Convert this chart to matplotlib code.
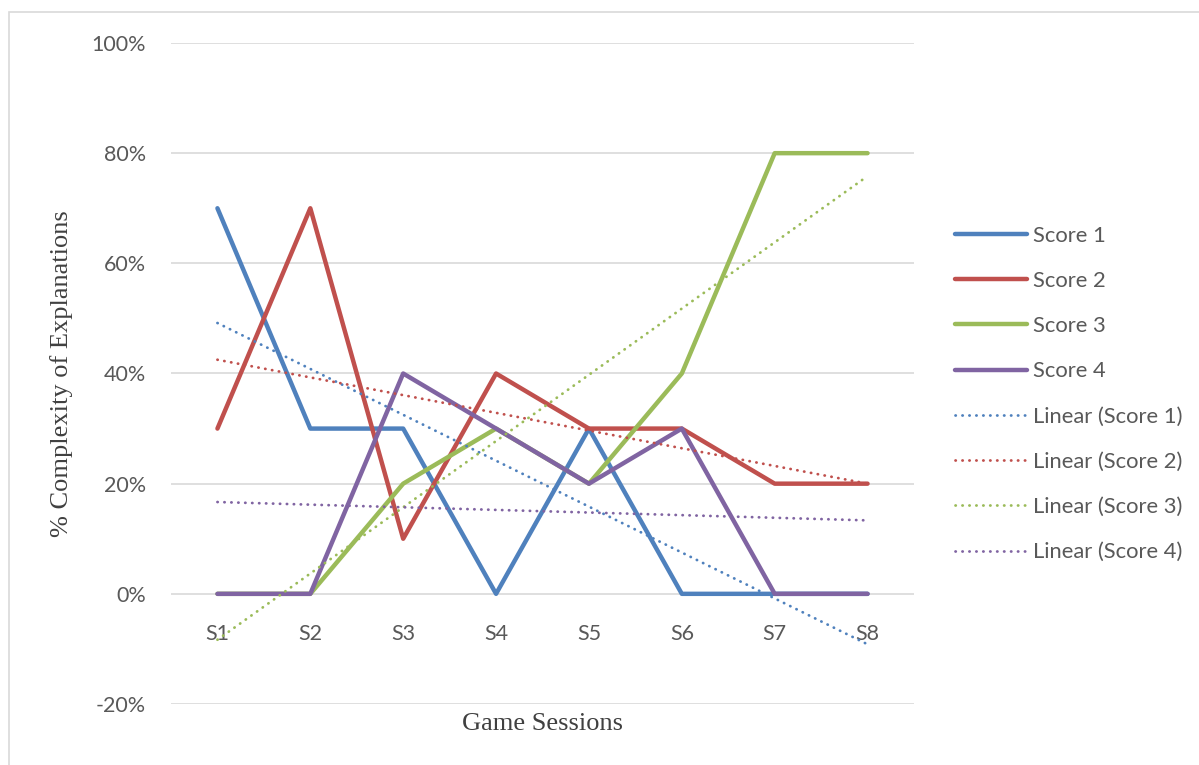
import numpy as np
import matplotlib.pyplot as plt
from matplotlib.patches import Rectangle
from matplotlib.ticker import FuncFormatter

# data (percent)
sessions = ['S1', 'S2', 'S3', 'S4', 'S5', 'S6', 'S7', 'S8']
score1 = [70, 30, 30, 0, 30, 0, 0, 0]
score2 = [30, 70, 10, 40, 30, 30, 20, 20]
score3 = [0, 0, 20, 30, 20, 40, 80, 80]
score4 = [0, 0, 40, 30, 20, 30, 0, 0]
names = ['Score 1', 'Score 2', 'Score 3', 'Score 4']
colors = ['#4F81BD', '#C0504D', '#9BBB59', '#8064A2']

sans = ['Lato', 'DejaVu Sans']
serif = ['Liberation Serif', 'DejaVu Serif']
txt = '#595959'

fig = plt.figure(figsize=(11.99, 7.65), dpi=100)
ax = fig.add_axes([171 / 1199, 1 - 704 / 765, (914 - 171) / 1199, (704 - 43) / 765])

x = np.arange(1, len(sessions) + 1)
series = [score1, score2, score3, score4]

# series lines
for vals, name, c in zip(series, names, colors):
    ax.plot(x, vals, color=c, lw=3.2, label=name, solid_capstyle='round',
            solid_joinstyle='round', zorder=3)

# linear trendlines
for vals, name, c in zip(series, names, colors):
    k, b = np.polyfit(x, vals, 1)
    ln, = ax.plot(x, k * x + b, color=c, lw=2.0, label='Linear (%s)' % name,
                  dash_capstyle='round', zorder=4)
    ln.set_dashes((0.1, 2.4))

ax.set_xlim(0.5, 8.5)
ax.set_ylim(-20, 100)
ax.set_yticks(np.arange(-20, 101, 20))
ax.yaxis.set_major_formatter(FuncFormatter(lambda v, p: '%d%%' % v))
ax.grid(axis='y', color='#D9D9D9', lw=1.2)
ax.set_axisbelow(True)
for s in ax.spines.values():
    s.set_visible(False)
ax.set_xticks([])
ax.tick_params(axis='y', length=0, pad=18, labelsize=15.5, labelcolor=txt)
for lab in ax.get_yticklabels():
    lab.set_family(sans)

# category labels sit next to the 0% line, as in Excel
for xi, s in zip(x, sessions):
    ax.annotate(s, (xi, 0), xytext=(0, -29), textcoords='offset points',
                ha='center', va='center', fontsize=15.5, color=txt, family=sans)

ax.set_xlabel('Game Sessions', family=serif, fontsize=19, color='#404040')
ax.xaxis.set_label_coords(0.5, -(724 - 704) / 661)
ax.xaxis.label.set_va('center')
ax.set_ylabel('% Complexity of Explanations', family=serif, fontsize=19, color='#404040')
ax.yaxis.set_label_coords((62 - 171) / 743, 0.5)
ax.yaxis.label.set_va('center')

leg = ax.legend(loc='center left', bbox_to_anchor=(955 / 1199, 1 - 394 / 765),
                bbox_transform=fig.transFigure, frameon=False, borderpad=0,
                borderaxespad=0, handlelength=3.3, handletextpad=0.25,
                labelspacing=1.15, prop={'family': sans, 'size': 15.8})
for t in leg.get_texts():
    t.set_color(txt)

# chart area border
fig.patches.append(Rectangle((9 / 1199, -0.1), 1.2, 1.1 - 12 / 765,
                             transform=fig.transFigure, fill=False,
                             edgecolor='#D9D9D9', lw=1.2))

fig.savefig('out.png', dpi=100)
